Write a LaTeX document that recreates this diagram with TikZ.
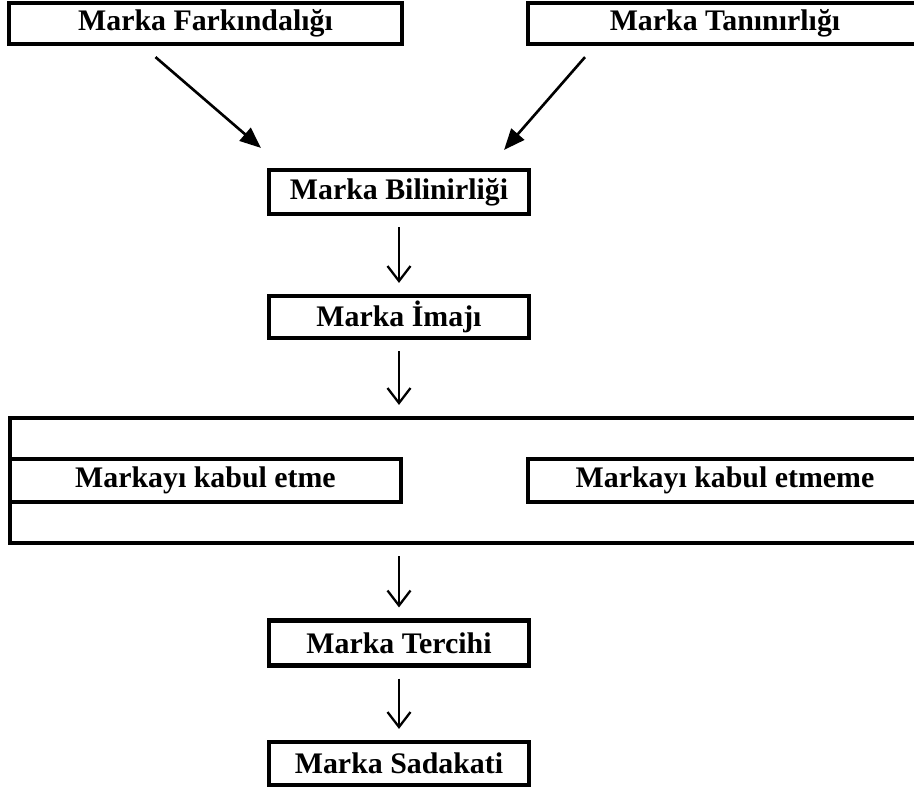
\documentclass[tikz,border=0pt]{standalone}
\usepackage{fontspec}
\setmainfont{Liberation Serif}
\usetikzlibrary{arrows.meta,calc}

\begin{document}
\begin{tikzpicture}[x=0.02cm, y=-0.02cm,
		kutu/.style={draw=black, line width=2.4pt, inner sep=0pt, font=\bfseries\fontsize{17}{20}\selectfont},
		ok/.style={black, line width=1.3pt, -{Straight Barb[length=0.3cm,width=0.46cm]}, shorten <=0.22cm, shorten >=0.22cm},
		capraz/.style={black, line width=1.5pt, -{Triangle[length=0.42cm,width=0.34cm]}}]
		\useasboundingbox (0,0) rectangle (914,796);
		\clip (0,0) rectangle (914,796);

		% Ust kutular
		\node [kutu, minimum width=7.86cm, minimum height=0.82cm] (fark) at (205.5,23.5) {Marka Farkındalığı};
		\node [kutu, minimum width=7.88cm, minimum height=0.82cm] (tani) at (725,23.5) {Marka Tanınırlığı};

		% Orta sutun
		\node [kutu, minimum width=5.2cm, minimum height=0.88cm] (bil) at (399,192) {Marka Bilinirliği};
		\node [kutu, minimum width=5.2cm, minimum height=0.84cm] (imaj) at (399,317) {Marka İmajı};

		% Kabul / kabul etmeme
		\node [kutu, minimum width=18.6cm, minimum height=2.5cm] (buyuk) at (475,480.5) {};
		\node [kutu, minimum width=7.82cm, minimum height=0.86cm] (kabul) at (205.5,480.5) {Markayı kabul etme};
		\node [kutu, minimum width=7.88cm, minimum height=0.86cm] (ret) at (725,480.5) {Markayı kabul etmeme};

		\node [kutu, minimum width=5.2cm, minimum height=0.9cm] (tercih) at (399,643) {Marka Tercihi};
		\node [kutu, minimum width=5.2cm, minimum height=0.86cm] (sadakat) at (399,763.5) {Marka Sadakati};

		% Oklar
		\draw [capraz] ($(fark.south)+(-50,11)$) -- ($(bil.north west)+(-6,-20)$);
		\draw [capraz] ($(tani.south)+(-140,11)$) -- ($(bil.north east)+(-27,-18)$);
		\draw [ok] (bil) -- (imaj);
		\draw [ok] (imaj) -- (imaj |- buyuk.north);
		\draw [ok] (buyuk.south -| tercih) -- (tercih);
		\draw [ok] (tercih) -- (sadakat);
	\end{tikzpicture}
\end{document}
